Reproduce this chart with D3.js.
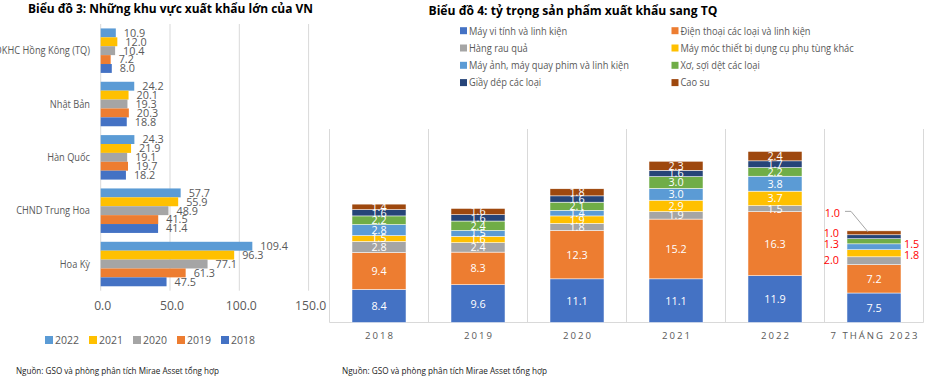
<!DOCTYPE html>
<html><head><meta charset="utf-8">
<script src="https://cdn.jsdelivr.net/npm/d3@7"></script>
<style>
html,body{margin:0;padding:0;background:#fff;}
svg{display:block;font-family:"Open Sans",sans-serif;}
</style></head>
<body>
<svg id="c" width="926" height="380"></svg>
<script>
// ---------- Chart 3 data ----------
const regions = ["ĐKHC Hồng Kông (TQ)", "Nhật Bản", "Hàn Quốc", "CHND Trung Hoa", "Hoa Kỳ"];
const years = ["2022", "2021", "2020", "2019", "2018"];
const v2022 = [10.9, 24.2, 24.3, 57.7, 109.4];
const v2021 = [12.0, 20.1, 21.9, 55.9, 96.3];
const v2020 = [10.4, 19.3, 19.1, 48.9, 77.1];
const v2019 = [7.2, 20.3, 19.7, 41.5, 61.3];
const v2018 = [8.0, 18.8, 18.2, 41.4, 47.5];
const xTicks = [0, 50, 100, 150];
const yearColors = ["#5B9BD5", "#FFC000", "#A5A5A5", "#ED7D31", "#4472C4"];

// ---------- Chart 4 data ----------
const periods = ["2018", "2019", "2020", "2021", "2022", "7 THÁNG 2023"];
const products = ["Máy vi tính và linh kiện", "Điện thoại các loại và linh kiện", "Hàng rau quả",
  "Máy móc thiết bị dụng cụ phụ tùng khác", "Máy ảnh, máy quay phim và linh kiện",
  "Xơ, sợi dệt các loại", "Giầy dép các loại", "Cao su"];
const mayViTinh = [8.4, 9.6, 11.1, 11.1, 11.9, 7.5];
const dienThoai = [9.4, 8.3, 12.3, 15.2, 16.3, 7.2];
const rauQua = [2.8, 2.4, 1.8, 1.9, 1.5, 2.0];
const mayMoc = [1.5, 1.6, 1.9, 2.9, 3.7, 1.8];
const mayAnh = [2.8, 1.5, 1.4, 3.0, 3.8, 1.5];
const xoSoi = [2.2, 2.4, 2.1, 3.0, 2.2, 1.3];
const giayDep = [1.6, 1.6, 1.6, 1.6, 1.7, 1.0];
const caoSu = [1.4, 1.6, 1.8, 2.3, 2.4, 1.0];
const productColors = ["#4472C4", "#ED7D31", "#A5A5A5", "#FFC000", "#5B9BD5", "#70AD47", "#264478", "#9E480E"];

const svg = d3.select("#c");
const GRID = "#D9D9D9", TXT = "#595959";

function squeeze(sel, k) {
  sel.each(function () {
    const w = this.getComputedTextLength();
    d3.select(this).attr("textLength", w * k).attr("lengthAdjust", "spacingAndGlyphs");
  });
}
function fitTo(sel, w) {
  sel.attr("textLength", w).attr("lengthAdjust", "spacingAndGlyphs");
}

// ================= Chart 3 =================
{
  const series = [v2022, v2021, v2020, v2019, v2018];
  const x = d3.scaleLinear().domain([0, 150]).range([100.7, 308.6]);
  const y = d3.scaleBand().domain(regions).range([24, 290.7]).paddingInner(0.166).paddingOuter(0.083);
  const yi = d3.scaleBand().domain(years).range([0, y.bandwidth()]);
  const g = svg.append("g");

  g.append("text").attr("x", 170.5).attr("y", 12.5).attr("text-anchor", "middle")
    .attr("font-weight", "bold").attr("font-size", 12).attr("fill", "#000")
    .text("Biểu đồ 3: Những khu vực xuất khẩu lớn của VN").call(fitTo, 285);

  // gridlines
  g.selectAll(".gl").data(xTicks).join("line")
    .attr("x1", d => x(d)).attr("x2", d => x(d)).attr("y1", y.range()[0]).attr("y2", y.range()[1])
    .attr("stroke", GRID).attr("stroke-width", 1);

  // bars
  const rows = [];
  series.forEach((s, si) => s.forEach((v, ri) => rows.push({ year: years[si], si, region: regions[ri], v })));
  g.selectAll(".bar").data(rows).join("rect")
    .attr("x", x(0)).attr("y", d => y(d.region) + yi(d.year))
    .attr("width", d => x(d.v) - x(0)).attr("height", yi.bandwidth())
    .attr("fill", d => yearColors[d.si]);
  g.selectAll(".lbl").data(rows).join("text")
    .attr("x", d => x(d.v) + 8).attr("y", d => y(d.region) + yi(d.year) + yi.bandwidth() / 2)
    .attr("dy", "0.36em").attr("font-size", 10.8).attr("fill", TXT)
    .text(d => d3.format(".1f")(d.v));

  // category axis labels
  g.selectAll(".cat").data(regions).join("text")
    .attr("x", 90).attr("y", d => y(d) + y.bandwidth() / 2).attr("dy", "0.36em")
    .attr("text-anchor", "end").attr("font-size", 10.5).attr("fill", TXT)
    .text(d => d).call(squeeze, 0.88);

  // value axis labels
  g.selectAll(".tk").data(xTicks).join("text")
    .attr("x", d => x(d) + 2).attr("y", 306).attr("dy", "0.36em").attr("text-anchor", "middle")
    .attr("font-size", 12.2).attr("fill", TXT).text(d => d3.format(".1f")(d));

  // legend
  const lg = g.selectAll(".lg").data(years).join("g")
    .attr("transform", (d, i) => `translate(${45 + i * 44},340)`);
  lg.append("rect").attr("x", 0).attr("y", -4).attr("width", 8).attr("height", 8)
    .attr("fill", (d, i) => yearColors[i]);
  lg.append("text").attr("x", 10).attr("y", 0).attr("dy", "0.36em").attr("font-size", 10.5)
    .attr("fill", TXT).text(d => d);

  g.append("text").attr("x", 16).attr("y", 374).attr("font-size", 9).attr("fill", "#1a1a1a")
    .text("Nguồn: GSO và phòng phân tích Mirae Asset tổng hợp").call(fitTo, 203);
}

// ================= Chart 4 =================
{
  const series = [mayViTinh, dienThoai, rauQua, mayMoc, mayAnh, xoSoi, giayDep, caoSu];
  const table = periods.map((p, i) => {
    const o = { period: p };
    products.forEach((name, k) => o[name] = series[k][i]);
    return o;
  });
  const stacked = d3.stack().keys(products)(table);
  const x = d3.scaleBand().domain(periods).range([329.5, 923.5]).paddingInner(0.4545).paddingOuter(0.2273);
  const y = d3.scaleLinear().domain([0, 49.2]).range([322.5, 129]);
  const step = x.step();
  const g = svg.append("g");

  g.append("text").attr("x", 573).attr("y", 14.5).attr("text-anchor", "middle")
    .attr("font-weight", "bold").attr("font-size", 12).attr("fill", "#000")
    .text("Biểu đồ 4:  tỷ trọng sản phẩm xuất khẩu sang TQ").call(fitTo, 289);

  // legend
  const lg = g.selectAll(".lg").data(products).join("g")
    .attr("transform", (d, i) => `translate(${i % 2 ? 671.5 : 460},${30.7 + Math.floor(i / 2) * 17.3})`);
  lg.append("rect").attr("x", 0).attr("y", -3.5).attr("width", 7).attr("height", 7)
    .attr("fill", (d, i) => productColors[i]);
  lg.append("text").attr("x", 9).attr("y", 0).attr("dy", "0.36em").attr("font-size", 10.8)
    .attr("fill", TXT).text(d => d).call(squeeze, 0.86);

  // category separators
  const seps = d3.range(periods.length + 1).map(i => x.range()[0] + i * step);
  g.selectAll(".sep").data(seps).join("line")
    .attr("x1", d => d).attr("x2", d => d).attr("y1", y.range()[1]).attr("y2", y(0))
    .attr("stroke", GRID);
  g.append("line").attr("x1", x.range()[0]).attr("x2", x.range()[1]).attr("y1", y(0)).attr("y2", y(0))
    .attr("stroke", GRID);

  // bars
  const layer = g.selectAll(".layer").data(stacked).join("g")
    .attr("fill", (d, i) => productColors[i]);
  layer.selectAll("rect").data(d => d.map(s => ({ s, key: d.key }))).join("rect")
    .attr("x", d => x(d.s.data.period)).attr("width", x.bandwidth())
    .attr("y", d => y(d.s[1])).attr("height", d => y(d.s[0]) - y(d.s[1]))
    .attr("stroke", "#fff").attr("stroke-width", 0.5);

  // labels
  const last = periods[periods.length - 1];
  // placement of the moved labels in the last bar: side and vertical nudge
  const outside = { 2: ["L", -1], 3: ["R", 2], 4: ["R", -3], 5: ["L", 3], 6: ["L", -4], 7: ["T", 0] };
  const labels = [];
  stacked.forEach((ser, k) => ser.forEach(s => labels.push({ k, s, period: s.data.period, v: s[1] - s[0] })));
  labels.forEach(d => {
    const cx = x(d.period) + x.bandwidth() / 2, cy = (y(d.s[0]) + y(d.s[1])) / 2;
    const o = d.period === last ? outside[d.k] : null;
    if (!o) { d.x = cx; d.y = cy; d.anchor = "middle"; d.fill = "#fff"; return; }
    d.fill = "#FF0000";
    if (o[0] === "L") { d.x = x(d.period) - 8; d.y = cy + o[1]; d.anchor = "end"; }
    else if (o[0] === "R") { d.x = x(d.period) + x.bandwidth() + 3; d.y = cy + o[1]; d.anchor = "start"; }
    else { d.x = x(d.period) - 7; d.y = y(d.s[1]) - 18; d.anchor = "end"; d.leader = true; }
  });
  g.selectAll(".sl").data(labels).join("text")
    .attr("x", d => d.x).attr("y", d => d.y).attr("dy", "0.36em").attr("text-anchor", d => d.anchor)
    .attr("font-size", 10.8).attr("fill", d => d.fill).text(d => d3.format(".1f")(d.v));
  labels.filter(d => d.leader).forEach(d => {
    const tx = x(d.period) + x.bandwidth() / 2 - 6, ty = y(d.s[1]);
    g.append("path").attr("d", `M${d.x + 5},${d.y - 1.5}H${d.x + 11}L${tx},${ty + 1}`)
      .attr("fill", "none").attr("stroke", "#A6A6A6").attr("stroke-width", 1);
  });

  // x axis labels
  g.selectAll(".xl").data(periods).join("text")
    .attr("x", d => x(d) + x.bandwidth() / 2 + 1).attr("y", 336).attr("dy", "0.36em")
    .attr("text-anchor", "middle").attr("font-size", 9.6).attr("letter-spacing", "2px")
    .attr("fill", TXT).text(d => d);

  g.append("text").attr("x", 342).attr("y", 374).attr("font-size", 9).attr("fill", "#1a1a1a")
    .text("Nguồn: GSO và phòng phân tích Mirae Asset tổng hợp").call(fitTo, 205);
}
</script>
</body></html>
